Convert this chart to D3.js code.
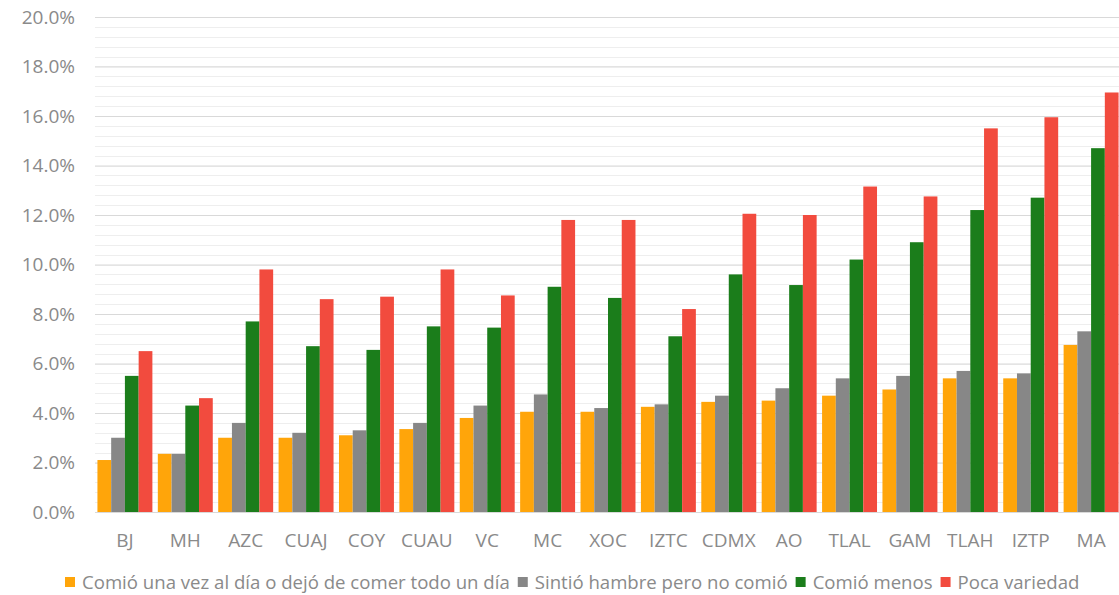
<!DOCTYPE html>
<html>
<head>
<meta charset="utf-8">
<script src="https://d3js.org/d3.v7.min.js"></script>
<style>
  body { margin: 0; background: #fff; }
  text { font-family: "Open Sans", "Noto Sans", sans-serif; }
</style>
</head>
<body>
<div id="chart"></div>
<script>
// categories (alcaldias) and the four series, values in %
var categories = ["BJ", "MH", "AZC", "CUAJ", "COY", "CUAU", "VC", "MC", "XOC", "IZTC", "CDMX", "AO", "TLAL", "GAM", "TLAH", "IZTP", "MA"];
var seriesNames = ["Comió una vez al día o dejó de comer todo un día", "Sintió hambre pero no comió", "Comió menos", "Poca variedad"];
var unaVez   = [2.1, 2.35, 3.0, 3.0, 3.1, 3.35, 3.8, 4.05, 4.05, 4.25, 4.45, 4.5, 4.7, 4.95, 5.4, 5.4, 6.75];
var hambre   = [3.0, 2.35, 3.6, 3.2, 3.3, 3.6, 4.3, 4.75, 4.2, 4.35, 4.7, 5.0, 5.4, 5.5, 5.7, 5.6, 7.3];
var menos    = [5.5, 4.3, 7.7, 6.7, 6.55, 7.5, 7.45, 9.1, 8.65, 7.1, 9.6, 9.17, 10.2, 10.9, 12.2, 12.7, 14.7];
var variedad = [6.5, 4.6, 9.8, 8.6, 8.7, 9.8, 8.75, 11.8, 11.8, 8.2, 12.05, 12.0, 13.15, 12.75, 15.5, 15.95, 16.95];
var yTicks = [0, 2, 4, 6, 8, 10, 12, 14, 16, 18, 20];
var colors = ["#ffa50a", "#878787", "#1b7d1b", "#f24b3e"];

var series = [unaVez, hambre, menos, variedad];

var W = 1119, H = 595;
var margin = { top: 17, right: 0, bottom: 83, left: 92 };

var svg = d3.select("#chart")
  .append("svg")
  .attr("width", W)
  .attr("height", H);

// scales
var x = d3.scaleBand()
  .domain(categories)
  .range([margin.left, 1124])
  .padding(0.09);

var xSub = d3.scaleBand()
  .domain(d3.range(series.length))
  .range([0, x.bandwidth()]);

var y = d3.scaleLinear()
  .domain([0, 20])
  .range([H - margin.bottom, margin.top]);

// minor grid lines every 0.4%
svg.append("g")
  .selectAll("line")
  .data(d3.range(0, 20.01, 0.4))
  .enter()
  .append("line")
  .attr("x1", 95).attr("x2", W)
  .attr("y1", function (d) { return Math.round(y(d)) + 0.5; })
  .attr("y2", function (d) { return Math.round(y(d)) + 0.5; })
  .style("stroke", "#eeeeee");

// y axis with major grid lines
var yAxis = svg.append("g")
  .attr("transform", "translate(" + W + ",0)")
  .call(d3.axisLeft(y)
    .tickValues(yTicks)
    .tickSize(W - 95)
    .tickFormat(function (d) { return d.toFixed(1) + "%"; }));
yAxis.select(".domain").remove();
yAxis.selectAll(".tick line").style("stroke", "#d9d9d9");
yAxis.selectAll(".tick text")
  .attr("x", -(W - 95) - 20)
  .style("font-size", "19px")
  .style("fill", "#8a8a8a");

// bars
var groups = svg.append("g")
  .selectAll("g")
  .data(categories)
  .enter()
  .append("g")
  .attr("transform", function (d) { return "translate(" + x(d) + ",0)"; });

groups.selectAll("rect")
  .data(function (d, i) { return series.map(function (s, k) { return { k: k, v: s[i] }; }); })
  .enter()
  .append("rect")
  .attr("x", function (d) { return xSub(d.k); })
  .attr("width", xSub.bandwidth())
  .attr("y", function (d) { return y(d.v); })
  .attr("height", function (d) { return y(0) - y(d.v); })
  .style("fill", function (d) { return colors[d.k]; });

// x axis labels
var xAxis = svg.append("g")
  .attr("transform", "translate(0," + y(0) + ")")
  .call(d3.axisBottom(x).tickSize(0).tickPadding(22));
xAxis.select(".domain").remove();
xAxis.selectAll(".tick text")
  .style("font-size", "19px")
  .style("fill", "#8a8a8a");

// legend
var legend = svg.append("g")
  .attr("transform", "translate(65,582)");
var lx = 0;
seriesNames.forEach(function (name, i) {
  legend.append("rect")
    .attr("x", lx).attr("y", -5)
    .attr("width", 10).attr("height", 10)
    .style("fill", colors[i]);
  var t = legend.append("text")
    .attr("x", lx + 17)
    .attr("dy", "0.35em")
    .style("font-size", "18.6px")
    .style("fill", "#8a8a8a")
    .text(name);
  lx += 17 + t.node().getComputedTextLength() + 8;
});
</script>
</body>
</html>
